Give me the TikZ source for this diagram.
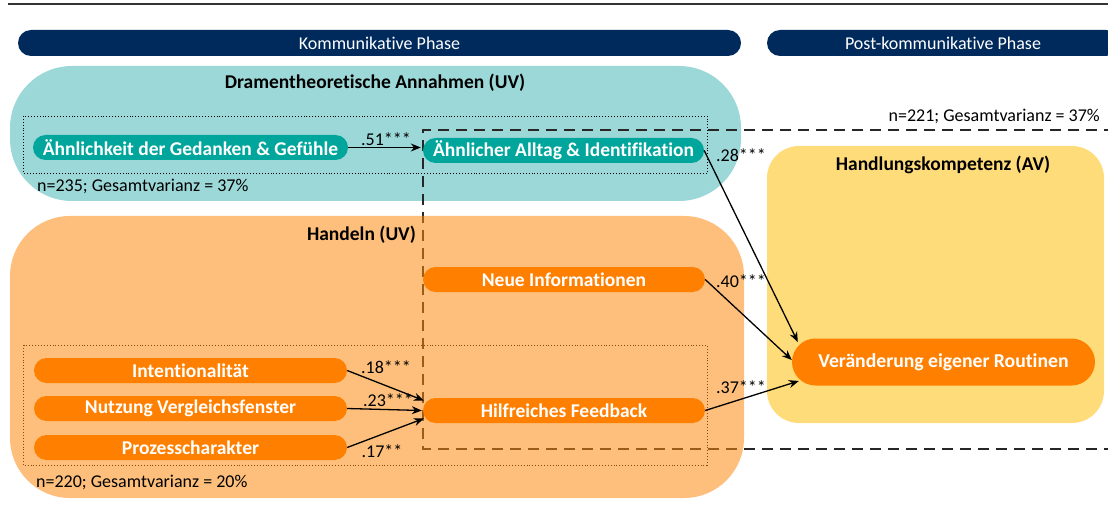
\documentclass[tikz,border=0pt]{standalone}
\usepackage{fontspec}
\setmainfont{Carlito}[Ligatures={NoCommon}]
\usetikzlibrary{arrows.meta,calc}
\definecolor{navy}{RGB}{0,42,92}
\definecolor{tealreg}{RGB}{157,216,216}
\definecolor{tealnode}{RGB}{0,166,156}
\definecolor{orbase}{RGB}{251,139,15}
\definecolor{ornode}{RGB}{255,128,0}
\definecolor{yelreg}{RGB}{255,220,122}
\begin{document}
\begin{tikzpicture}[x=1pt,y=-1pt,
  pill/.style={rounded corners=12.5pt, minimum height=25pt, inner sep=0pt, text=white, font=\fontsize{19.5}{22}\selectfont\bfseries},
  tealpill/.style={pill, fill=tealnode},
  orpill/.style={pill, fill=ornode},
  bar/.style={fill=navy, rounded corners=13pt, minimum height=26pt, inner sep=0pt, text=white, font=\fontsize{18}{20}\selectfont},
  title/.style={inner sep=0pt, font=\fontsize{19.5}{22}\selectfont\bfseries},
  lab/.style={inner sep=0pt, font=\fontsize{18}{20}\selectfont},
  coef/.style={inner sep=0pt, font=\fontsize{18}{20}\selectfont},
  arr/.style={-{Stealth[length=10pt,width=8pt]}, line width=1.3pt},
  dashline/.style={line width=1.6pt, dash pattern=on 11pt off 7pt, draw=black!85},
  dotbox/.style={line width=0.9pt, dotted}]
\useasboundingbox (0,0) rectangle (1108,513);
% top rule
\draw[line width=1.3pt, black!80] (8,4) -- (1108,4);
% phase bars
\node[bar, minimum width=723pt] (kp) at (379.5,43) {Kommunikative Phase};
\node[bar, minimum width=352pt] (pkp) at (943,43) {Post-kommunikative Phase};
% teal region
\fill[tealreg, rounded corners=62pt] (10,66) rectangle (741,201);
\node[title] (tt) at (375,83) {Dramentheoretische Annahmen (UV)};
\draw[dotbox] (23,116) rectangle (707,173);
\node[lab, anchor=west] (n235) at (37,186) {n=235; Gesamtvarianz = 37\%};
% yellow region
\fill[yelreg, rounded corners=32pt] (767,146) rectangle (1104,423);
\node[title] (yt) at (943,165) {Handlungskompetenz (AV)};
% dashed frame
\draw[dashline] (1115,130) -- (423,130) -- (423,449) -- (1115,449);
\node[lab, anchor=east] (n221) at (1100,116) {n=221; Gesamtvarianz = 37\%};
% dotted box 2
\draw[dotbox] (23,345) rectangle (707,465);
% orange region (translucent)
\fill[orbase, fill opacity=0.55, rounded corners=60pt] (10,216) rectangle (744,498);
\node[title, anchor=east] (ht) at (416,235) {Handeln (UV)};
\node[lab, anchor=west] (n220) at (36,482) {n=220; Gesamtvarianz = 20\%};
% nodes
\node[tealpill, minimum width=315pt] (g) at (190.5,147.5) {Ähnlichkeit der Gedanken \& Gefühle};
\node[tealpill, minimum width=281pt] (a) at (563.5,150.5) {Ähnlicher Alltag \& Identifikation};
\node[orpill, minimum width=282pt] (ni) at (564,279.5) {Neue Informationen};
\node[orpill, minimum width=282pt] (hf) at (564,410.5) {Hilfreiches Feedback};
\node[orpill, minimum width=313pt] (in) at (190.5,370.5) {Intentionalität};
\node[orpill, minimum width=313pt] (nv) at (190.5,408.5) {Nutzung Vergleichsfenster};
\node[orpill, minimum width=313pt] (pc) at (190.5,447.5) {Prozesscharakter};
\node[pill, fill=ornode, minimum width=303pt, minimum height=47pt, rounded corners=23.5pt, font=\fontsize{19.7}{22}\selectfont\bfseries] (vr) at (943.5,362) {Veränderung eigener Routinen};
% arrows
\draw[arr] (g.east) -- ($(a.west)+(-2,-3)$);
\draw[arr] (in.east) -- ($(hf.west)+(1,-10)$);
\draw[arr] (nv.east) -- ($(hf.west)+(-1,0)$);
\draw[arr] (pc.east) -- ($(hf.west)+(1,8)$);
\draw[arr] (a.east) -- ($(vr.west)+(6,-20)$);
\draw[arr] (ni.east) -- ($(vr.west)+(0,-2)$);
\draw[arr] (hf.east) -- ($(vr.west)+(7,19)$);
% coefficients
\node[coef] (c51) at (386,139) {.51***};
\node[coef] (c18) at (386,367) {.18***};
\node[coef] (c23) at (388,400) {.23***};
\node[coef] (c17) at (382,451) {.17**};
\node[coef] (c28) at (741,155) {.28***};
\node[coef] (c40) at (741,281) {.40***};
\node[coef] (c37) at (741,387) {.37***};
\end{tikzpicture}
\end{document}
